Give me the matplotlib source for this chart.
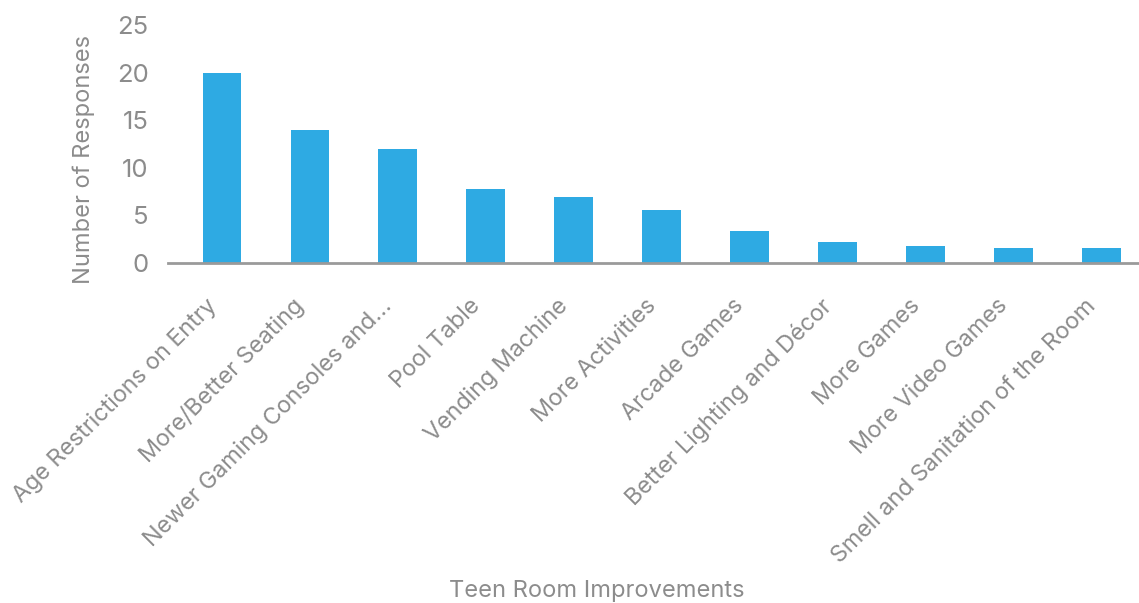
import matplotlib
matplotlib.use("Agg")
import matplotlib.pyplot as plt
import matplotlib.transforms as mtransforms

plt.rcParams['font.family'] = ['Inter', 'DejaVu Sans']

# Datos
categorias = [
    "Age Restrictions on Entry",
    "More/Better Seating",
    "Newer Gaming Consoles and...",
    "Pool Table",
    "Vending Machine",
    "More Activities",
    "Arcade Games",
    "Better Lighting and Décor",
    "More Games",
    "More Video Games",
    "Smell and Sanitation of the Room",
]
respuestas = [20, 14, 12, 7.8, 6.9, 5.6, 3.4, 2.2, 1.8, 1.6, 1.6]
y_ticks = [0, 5, 10, 15, 20, 25]

gris = "#8c8c8c"
azul = "#2EAAE3"

fig = plt.figure(figsize=(11.39, 6.03), dpi=100)
ax = fig.add_axes([0.1475, 0.5638, 0.8525, 0.3947])

x = range(len(categorias))
ax.bar(x, respuestas, width=0.44, color=azul, zorder=2)

ax.set_xlim(-0.614, 10.43)
ax.set_ylim(0, 25)
ax.set_yticks(y_ticks)
ax.set_yticklabels([str(v) for v in y_ticks], fontsize=18.5, color=gris)

ax.set_xticks(list(x))
ax.set_xticklabels(categorias, rotation=45, ha="right", va="center",
                   rotation_mode="anchor", fontsize=16.8, color=gris)

ax.tick_params(axis="x", length=0, pad=22)
ax.tick_params(axis="y", length=0, pad=14)

# desplazar etiquetas un poco hacia abajo a la izquierda
desplazamiento = mtransforms.ScaledTranslation(-0.09, -0.09, fig.dpi_scale_trans)
for etiqueta in ax.get_xticklabels():
    etiqueta.set_transform(etiqueta.get_transform() + desplazamiento)

for lado in ["top", "right", "left"]:
    ax.spines[lado].set_visible(False)
ax.spines["bottom"].set_color("#9a9a9a")
ax.spines["bottom"].set_linewidth(2)
ax.spines["bottom"].set_zorder(3)

ax.set_ylabel("Number of Responses", fontsize=17, color=gris)
ax.yaxis.set_label_coords(-0.075, 0.437)
fig.text(0.524, 0.001, "Teen Room Improvements", fontsize=17, color=gris,
         ha="center", va="bottom")

fig.savefig("out.png", dpi=100)
